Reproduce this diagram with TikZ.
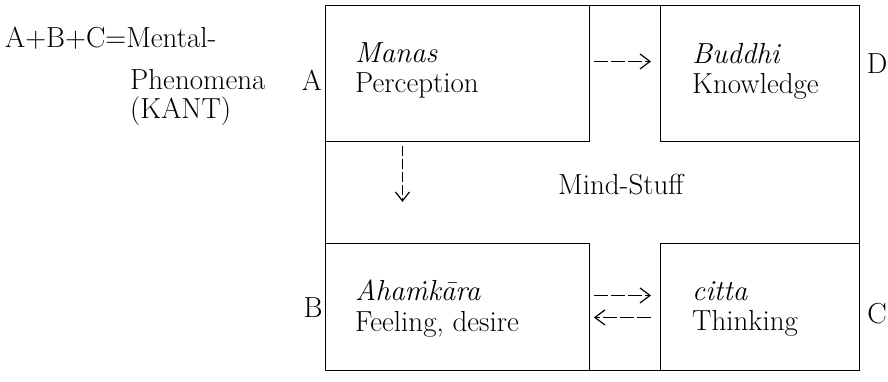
\documentclass[tikz,border=0pt]{standalone}
\usepackage{fontspec}
\usetikzlibrary{arrows.meta,calc}
\begin{document}
\begin{tikzpicture}[x=1pt,y=-1pt,
  txt/.style={font=\fontsize{29}{34}\selectfont, inner sep=0pt, anchor=base west},
  lbl/.style={font=\fontsize{29}{34}\selectfont, inner sep=0pt, anchor=base},
  box/.style={draw, line width=0.9pt, inner sep=0pt, anchor=north west},
  darr/.style={line width=1pt, dash pattern=on 14pt off 3pt, -{Straight Barb[length=10pt,width=15pt,line width=1.2pt]}},
  varr/.style={line width=1pt, dash pattern=on 10pt off 3pt, -{Straight Barb[length=9pt,width=14pt,line width=1.2pt]}}]
\useasboundingbox (0,0) rectangle (888,381);
% boxes
\node[box, minimum width=264pt, minimum height=136pt] (manas) at (325,5) {};
\node[box, minimum width=199pt, minimum height=136pt] (buddhi) at (660,5) {};
\node[box, minimum width=264pt, minimum height=127pt] (aham) at (325,243) {};
\node[box, minimum width=199pt, minimum height=127pt] (citta) at (660,243) {};
\draw[line width=0.9pt] (manas.north west) rectangle (citta.south east);
% texts
\node[txt] (t1) at (355,62) {\textit{Manas}};
\node[txt] (t2) at (355,92) {Perception};
\node[txt] (t3) at (692,63) {\textit{Buddhi}};
\node[txt] (t4) at (692,93) {Knowledge};
\node[txt] (t5) at (355,300) {\textit{Aha\.mk\=ara}};
\node[txt] (t6) at (355,331) {Feeling, desire};
\node[txt] (t7) at (692,300) {\textit{citta}};
\node[txt] (t8) at (692,330) {Thinking};
\node[txt] (ms) at (558,194) {Mind-Stuff};
% side labels
\node[lbl] (la) at (312,90) {A};
\node[lbl] (lb) at (313,317) {B};
\node[lbl] (lc) at (877,323) {C};
\node[lbl] (ld) at (877,73) {D};
% left text
\node[txt] (k1) at (5,47) {A+B+C=Mental-};
\node[txt] (k2) at (130,89) {Phenomena};
\node[txt] (k3) at (130,118) {(KANT)};
% arrows
\draw[darr] ($(manas.east)+(4,-12)$) -- ($(buddhi.west)+(-9,-12)$);
\draw[darr] ($(aham.east)+(4,-11.5)$) -- ($(citta.west)+(-9,-11.5)$);
\draw[darr] ($(citta.west)+(-9,10.5)$) -- ($(aham.east)+(4,10.5)$);
\draw[varr] ($(manas.south)+(-55,4)$) -- ($(manas.south)+(-55,60)$);
\end{tikzpicture}
\end{document}
